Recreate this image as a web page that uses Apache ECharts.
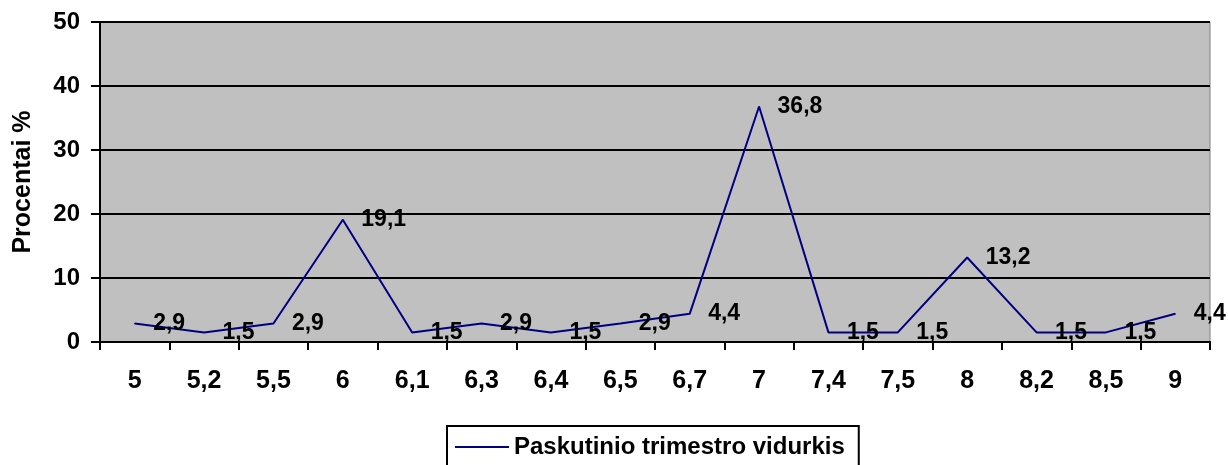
<!DOCTYPE html>
<html>
<head>
<meta charset="utf-8">
<script src="https://cdn.jsdelivr.net/npm/echarts@6/dist/echarts.min.js"></script>
<style>
  html, body { margin: 0; padding: 0; background: #fff; }
  #chart { width: 1228px; height: 465px; }
</style>
</head>
<body>
<div id="chart"></div>
<script>
const categories = ['5', '5,2', '5,5', '6', '6,1', '6,3', '6,4', '6,5', '6,7', '7', '7,4', '7,5', '8', '8,2', '8,5', '9'];
const values = [2.9, 1.5, 2.9, 19.1, 1.5, 2.9, 1.5, 2.9, 4.4, 36.8, 1.5, 1.5, 13.2, 1.5, 1.5, 4.4];
const seriesName = 'Paskutinio trimestro vidurkis';
const yTicks = [0, 10, 20, 30, 40, 50];

var myChart = echarts.init(document.getElementById('chart'));
var font = 'Arial, "Liberation Sans", sans-serif';

var option = {
  backgroundColor: '#ffffff',
  animation: false,
  textStyle: { fontFamily: font },
  grid: {
    left: 100,
    right: 18,
    top: 22,
    bottom: 123,
    show: true,
    backgroundColor: '#c0c0c0',
    borderColor: '#808080',
    borderWidth: 1
  },
  legend: {
    data: [seriesName],
    top: 426,
    left: 447,
    padding: [9, 14, 20, 8],
    borderColor: '#000',
    borderWidth: 2,
    icon: 'rect',
    itemWidth: 54,
    itemHeight: 2,
    itemGap: 6,
    textStyle: { fontSize: 24, fontWeight: 'bold', color: '#000', fontFamily: font }
  },
  xAxis: {
    type: 'category',
    data: categories,
    boundaryGap: true,
    axisLine: { lineStyle: { color: '#000', width: 2 } },
    axisTick: { show: true, length: 8, lineStyle: { color: '#000', width: 2 } },
    axisLabel: { color: '#000', fontSize: 25, fontWeight: 'bold', margin: 27, interval: 0 }
  },
  yAxis: {
    type: 'value',
    min: yTicks[0],
    max: yTicks[yTicks.length - 1],
    interval: 10,
    name: 'Procentai %',
    nameLocation: 'middle',
    nameGap: 64,
    nameRotate: 90,
    nameTextStyle: { color: '#000', fontSize: 25, fontWeight: 'bold' },
    axisLine: { show: true, lineStyle: { color: '#000', width: 2 } },
    axisTick: { show: true, length: 9, lineStyle: { color: '#000', width: 2 } },
    axisLabel: { color: '#000', fontSize: 24, fontWeight: 'bold', margin: 20 },
    splitLine: { show: true, lineStyle: { color: '#000', width: 2 } }
  },
  series: [{
    name: seriesName,
    type: 'line',
    data: values,
    symbol: 'circle',
    symbolSize: 1,
    lineStyle: { color: '#000080', width: 2 },
    itemStyle: { color: '#000080' },
    label: {
      show: true,
      position: 'right',
      distance: 18,
      color: '#000',
      fontSize: 23,
      fontWeight: 'bold',
      formatter: function (p) { return String(p.value).replace('.', ','); }
    }
  }]
};
option && myChart.setOption(option);
</script>
</body>
</html>
